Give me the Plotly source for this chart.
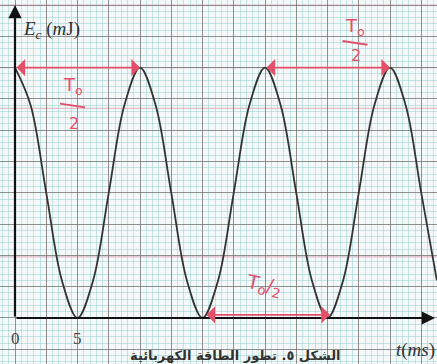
import plotly.graph_objects as go

# Energy stored in the capacitor, read every 1.25 ms (grid units, 1 unit = 1 major division)
t_ms = [0, 1.25, 2.5, 3.75, 5, 6.25, 7.5, 8.75, 10,
        11.25, 12.5, 13.75, 15, 16.25, 17.5, 18.75, 20,
        21.25, 22.5, 23.75, 25, 26.25, 27.5, 28.75, 30,
        31.25, 32.5, 33.75]
Ec = [8, 6.8, 4, 1.2, 0, 1.2, 4, 6.8, 8,
      6.8, 4, 1.2, 0, 1.2, 4, 6.8, 8,
      6.8, 4, 1.2, 0, 1.2, 4, 6.8, 8,
      6.8, 4, 1.2]

# half-period markers (start, end, level)
half_periods = [(0, 10, 8), (20, 30, 8), (15.2, 25.2, 0.1)]

x_ticks = [0, 5]
x_tick_text = ["0", "5"]

RED = "#e4506a"
INK = "#333333"

fig = go.Figure()

fig.add_trace(go.Scatter(
    x=t_ms, y=Ec, mode="lines",
    line=dict(color=INK, width=1.8, shape="spline", smoothing=1.0),
    hoverinfo="skip", showlegend=False,
))

# pinkish rulings of the graph paper
for yv in [8, 6.7, 1.95, 10.0]:
    fig.add_shape(type="line", xref="paper", x0=0, x1=1, y0=yv, y1=yv,
                  line=dict(color="rgba(215,140,165,0.55)", width=1.2), layer="below")

annotations = []

# coordinate axes with arrows
annotations.append(dict(x=0, y=10.0, ax=0, ay=0, xref="x", yref="y", axref="x", ayref="y",
                        showarrow=True, arrowhead=2, arrowsize=1.2, arrowwidth=2.2,
                        arrowcolor="#111", text=""))
annotations.append(dict(x=33.6, y=0, ax=0, ay=0, xref="x", yref="y", axref="x", ayref="y",
                        showarrow=True, arrowhead=2, arrowsize=1.2, arrowwidth=2.2,
                        arrowcolor="#111", text=""))

# double arrows spanning half a period
for a, b, lvl in half_periods:
    annotations.append(dict(x=b, y=lvl, ax=a, ay=lvl, xref="x", yref="y", axref="x", ayref="y",
                            showarrow=True, arrowhead=1, startarrowhead=1, arrowside="end+start",
                            arrowsize=1.6, startarrowsize=1.6, arrowwidth=1.8,
                            arrowcolor=RED, text=""))

hand = dict(family="DejaVu Sans", color=RED)

# T0/2 labels
def frac_label(xc, y_top, y_bot, y_line):
    annotations.append(dict(x=xc, y=y_top, xref="x", yref="y", showarrow=False,
                            text="T<sub>o</sub>", font=dict(size=18, **hand)))
    annotations.append(dict(x=xc + 0.1, y=y_bot, xref="x", yref="y", showarrow=False,
                            text="2", font=dict(size=16, **hand)))
    fig.add_shape(type="line", x0=xc - 1.0, x1=xc + 1.0, y0=y_line, y1=y_line - 0.12,
                  line=dict(color=RED, width=1.8))

frac_label(4.6, 7.4, 6.2, 6.85)
frac_label(27.2, 9.3, 8.4, 8.85)

annotations.append(dict(x=19.9, y=1.05, xref="x", yref="y", showarrow=False,
                        text="T<sub>o</sub>/<sub>2</sub>", textangle=12,
                        font=dict(size=19, **hand)))

# axis titles
annotations.append(dict(x=0.5, y=9.2, xref="x", yref="y", showarrow=False, xanchor="left",
                        text="<i>E<sub>c</sub></i> (<i>m</i>J)",
                        font=dict(family="Liberation Serif", size=19, color="#333")))
annotations.append(dict(x=33.75, y=-1.02, xref="x", yref="y", showarrow=False, xanchor="right",
                        text="<i>t</i>(<i>ms</i>)",
                        font=dict(family="Liberation Serif", size=19, color="#333")))

# tick labels
for tv, tt in zip(x_ticks, x_tick_text):
    annotations.append(dict(x=tv, y=-0.65, xref="x", yref="y", showarrow=False, text=tt,
                            font=dict(family="Liberation Serif", size=17, color="#444")))

# caption
annotations.append(dict(x=17.6, y=-1.2, xref="x", yref="y", showarrow=False,
                        text="<b>الشكل ٥. تطور الطاقة الكهربائية</b>",
                        font=dict(family="DejaVu Sans", size=13, color="#333")))

fig.update_layout(
    width=437, height=364,
    margin=dict(l=0, r=0, t=0, b=0),
    paper_bgcolor="#f5f8f8",
    plot_bgcolor="#f5f8f8",
    showlegend=False,
    annotations=annotations,
    xaxis=dict(range=[-1.2, 33.76], tick0=0, dtick=2.5, showticklabels=False,
               showgrid=True, gridcolor="rgba(110,110,110,0.75)", gridwidth=1.2,
               minor=dict(dtick=0.5, showgrid=True, gridcolor="rgba(150,205,205,0.5)", gridwidth=1),
               zeroline=False, showline=False, ticks=""),
    yaxis=dict(range=[-1.47, 10.16], tick0=0, dtick=1, showticklabels=False,
               showgrid=True, gridcolor="rgba(110,110,110,0.75)", gridwidth=1.2,
               minor=dict(dtick=0.2, showgrid=True, gridcolor="rgba(150,205,205,0.5)", gridwidth=1),
               zeroline=False, showline=False, ticks=""),
)

fig.write_html("out.html")
